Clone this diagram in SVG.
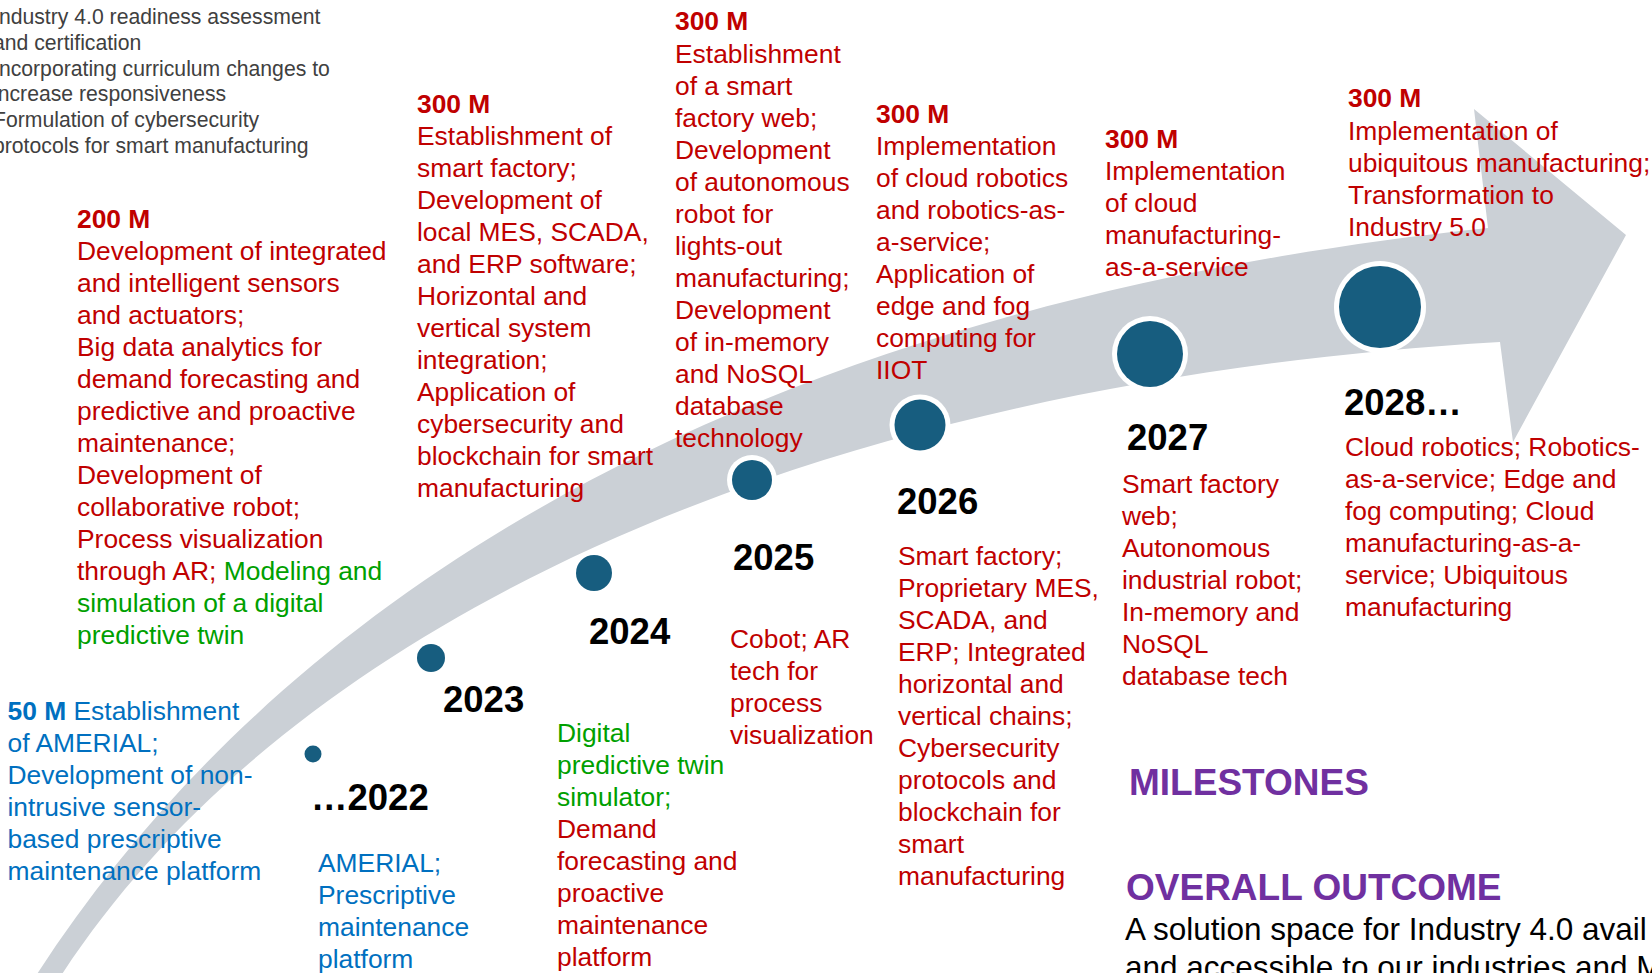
<svg xmlns="http://www.w3.org/2000/svg" width="1652" height="973" viewBox="0 0 1652 973">
<style>
text{font-family:"Liberation Sans",Arial,Helvetica,sans-serif}
.t{font-size:26.4px}
.red{fill:#C00000}
.grn{fill:#00A000}
.blu{fill:#0070C0}
.b{font-weight:bold}
.yr{font-size:36.5px;font-weight:bold;fill:#000}
.gray{font-size:21.2px;fill:#404040}
.hd{font-size:37px;font-weight:bold;fill:#7030A0}
.out{font-size:31.5px;fill:#000}
.arrow{fill:#CBD0D6}
.dot{fill:#175D7F}
.ring{fill:#FFFFFF}
</style>
<rect width="1652" height="973" fill="#FFFFFF"/>
<g id="connectors">
<path class="arrow" d="M30,985 C300,560 800,300 1488,228 L1474,109 L1626,235 L1513,442 L1500,342 C850,380 300,600 55,985 Z"/>
</g>
<g id="dot-2022"><circle class="dot" cx="313" cy="754" r="8.5"/></g>
<g id="dot-2023"><circle class="dot" cx="431" cy="658" r="14"/></g>
<g id="dot-2024"><circle class="ring" cx="594" cy="573" r="22"/><circle class="dot" cx="594" cy="573" r="18"/></g>
<g id="dot-2025"><circle class="ring" cx="752" cy="480" r="25"/><circle class="dot" cx="752" cy="480" r="20"/></g>
<g id="dot-2026"><circle class="ring" cx="920" cy="425" r="30.5"/><circle class="dot" cx="920" cy="425" r="25.5"/></g>
<g id="dot-2027"><circle class="ring" cx="1150" cy="354" r="38"/><circle class="dot" cx="1150" cy="354" r="33"/></g>
<g id="dot-2028"><circle class="ring" cx="1380" cy="307" r="46"/><circle class="dot" cx="1380" cy="307" r="41"/></g>

<g id="goals-list">
<text class="gray">
<tspan x="-7" y="24">Industry 4.0 readiness assessment</tspan>
<tspan x="-7" y="50">and certification</tspan>
<tspan x="-7" y="76">Incorporating curriculum changes to</tspan>
<tspan x="-7" y="101">increase responsiveness</tspan>
<tspan x="-7" y="127">Formulation of cybersecurity</tspan>
<tspan x="-7" y="153">protocols for smart manufacturing</tspan>
</text>
</g>

<g id="fund-2022">
<text class="t blu">
<tspan x="7.5" y="720"><tspan class="b">50 M</tspan> Establishment</tspan>
<tspan x="7.5" y="752">of AMERIAL;</tspan>
<tspan x="7.5" y="784">Development of non-</tspan>
<tspan x="7.5" y="816">intrusive sensor-</tspan>
<tspan x="7.5" y="848">based prescriptive</tspan>
<tspan x="7.5" y="880">maintenance platform</tspan>
</text>
</g>

<g id="fund-2023">
<text class="t red">
<tspan class="b" x="77" y="228">200 M</tspan>
<tspan x="77" y="260">Development of integrated</tspan>
<tspan x="77" y="292">and intelligent sensors</tspan>
<tspan x="77" y="324">and actuators;</tspan>
<tspan x="77" y="356">Big data analytics for</tspan>
<tspan x="77" y="388">demand forecasting and</tspan>
<tspan x="77" y="420">predictive and proactive</tspan>
<tspan x="77" y="452">maintenance;</tspan>
<tspan x="77" y="484">Development of</tspan>
<tspan x="77" y="516">collaborative robot;</tspan>
<tspan x="77" y="548">Process visualization</tspan>
<tspan x="77" y="580">through AR; <tspan class="grn">Modeling and</tspan></tspan>
<tspan class="grn" x="77" y="612">simulation of a digital</tspan>
<tspan class="grn" x="77" y="644">predictive twin</tspan>
</text>
</g>

<g id="fund-2024">
<text class="t red">
<tspan class="b" x="417" y="113">300 M</tspan>
<tspan x="417" y="145">Establishment of</tspan>
<tspan x="417" y="177">smart factory;</tspan>
<tspan x="417" y="209">Development of</tspan>
<tspan x="417" y="241">local MES, SCADA,</tspan>
<tspan x="417" y="273">and ERP software;</tspan>
<tspan x="417" y="305">Horizontal and</tspan>
<tspan x="417" y="337">vertical system</tspan>
<tspan x="417" y="369">integration;</tspan>
<tspan x="417" y="401">Application of</tspan>
<tspan x="417" y="433">cybersecurity and</tspan>
<tspan x="417" y="465">blockchain for smart</tspan>
<tspan x="417" y="497">manufacturing</tspan>
</text>
</g>

<g id="fund-2025">
<text class="t red">
<tspan class="b" x="675" y="30">300 M</tspan>
<tspan x="675" y="63">Establishment</tspan>
<tspan x="675" y="95">of a smart</tspan>
<tspan x="675" y="127">factory web;</tspan>
<tspan x="675" y="159">Development</tspan>
<tspan x="675" y="191">of autonomous</tspan>
<tspan x="675" y="223">robot for</tspan>
<tspan x="675" y="255">lights-out</tspan>
<tspan x="675" y="287">manufacturing;</tspan>
<tspan x="675" y="319">Development</tspan>
<tspan x="675" y="351">of in-memory</tspan>
<tspan x="675" y="383">and NoSQL</tspan>
<tspan x="675" y="415">database</tspan>
<tspan x="675" y="447">technology</tspan>
</text>
</g>

<g id="fund-2026">
<text class="t red">
<tspan class="b" x="876" y="123">300 M</tspan>
<tspan x="876" y="155">Implementation</tspan>
<tspan x="876" y="187">of cloud robotics</tspan>
<tspan x="876" y="219">and robotics-as-</tspan>
<tspan x="876" y="251">a-service;</tspan>
<tspan x="876" y="283">Application of</tspan>
<tspan x="876" y="315">edge and fog</tspan>
<tspan x="876" y="347">computing for</tspan>
<tspan x="876" y="379">IIOT</tspan>
</text>
</g>

<g id="fund-2027">
<text class="t red">
<tspan class="b" x="1105" y="148">300 M</tspan>
<tspan x="1105" y="180">Implementation</tspan>
<tspan x="1105" y="212">of cloud</tspan>
<tspan x="1105" y="244">manufacturing-</tspan>
<tspan x="1105" y="276">as-a-service</tspan>
</text>
</g>

<g id="fund-2028">
<text class="t red">
<tspan class="b" x="1348" y="107">300 M</tspan>
<tspan x="1348" y="140">Implementation of</tspan>
<tspan x="1348" y="172">ubiquitous manufacturing;</tspan>
<tspan x="1348" y="204">Transformation to</tspan>
<tspan x="1348" y="236">Industry 5.0</tspan>
</text>
</g>

<g id="year-2022">
<text class="yr" x="311" y="810">…2022</text>
<text class="t blu">
<tspan x="318" y="872">AMERIAL;</tspan>
<tspan x="318" y="904">Prescriptive</tspan>
<tspan x="318" y="936">maintenance</tspan>
<tspan x="318" y="968">platform</tspan>
</text>
</g>

<g id="year-2023">
<text class="yr" x="443" y="712">2023</text>
</g>

<g id="year-2024">
<text class="yr" x="589" y="644">2024</text>
<text class="t">
<tspan class="grn" x="557" y="742">Digital</tspan>
<tspan class="grn" x="557" y="774">predictive twin</tspan>
<tspan class="grn" x="557" y="806">simulator;</tspan>
<tspan class="red" x="557" y="838">Demand</tspan>
<tspan class="red" x="557" y="870">forecasting and</tspan>
<tspan class="red" x="557" y="902">proactive</tspan>
<tspan class="red" x="557" y="934">maintenance</tspan>
<tspan class="red" x="557" y="966">platform</tspan>
</text>
</g>

<g id="year-2025">
<text class="yr" x="733" y="570">2025</text>
<text class="t red">
<tspan x="730" y="648">Cobot; AR</tspan>
<tspan x="730" y="680">tech for</tspan>
<tspan x="730" y="712">process</tspan>
<tspan x="730" y="744">visualization</tspan>
</text>
</g>

<g id="year-2026">
<text class="yr" x="897" y="514">2026</text>
<text class="t red">
<tspan x="898" y="565">Smart factory;</tspan>
<tspan x="898" y="597">Proprietary MES,</tspan>
<tspan x="898" y="629">SCADA, and</tspan>
<tspan x="898" y="661">ERP; Integrated</tspan>
<tspan x="898" y="693">horizontal and</tspan>
<tspan x="898" y="725">vertical chains;</tspan>
<tspan x="898" y="757">Cybersecurity</tspan>
<tspan x="898" y="789">protocols and</tspan>
<tspan x="898" y="821">blockchain for</tspan>
<tspan x="898" y="853">smart</tspan>
<tspan x="898" y="885">manufacturing</tspan>
</text>
</g>

<g id="year-2027">
<text class="yr" x="1127" y="450">2027</text>
<text class="t red">
<tspan x="1122" y="493">Smart factory</tspan>
<tspan x="1122" y="525">web;</tspan>
<tspan x="1122" y="557">Autonomous</tspan>
<tspan x="1122" y="589">industrial robot;</tspan>
<tspan x="1122" y="621">In-memory and</tspan>
<tspan x="1122" y="653">NoSQL</tspan>
<tspan x="1122" y="685">database tech</tspan>
</text>
</g>

<g id="year-2028">
<text class="yr" x="1344" y="415">2028…</text>
<text class="t red">
<tspan x="1345" y="456">Cloud robotics; Robotics-</tspan>
<tspan x="1345" y="488">as-a-service; Edge and</tspan>
<tspan x="1345" y="520">fog computing; Cloud</tspan>
<tspan x="1345" y="552">manufacturing-as-a-</tspan>
<tspan x="1345" y="584">service; Ubiquitous</tspan>
<tspan x="1345" y="616">manufacturing</tspan>
</text>
</g>

<g id="milestones">
<text class="hd" x="1129" y="795">MILESTONES</text>
</g>

<g id="overall-outcome">
<text class="hd" x="1126" y="900">OVERALL OUTCOME</text>
<text class="out">
<tspan x="1125" y="940">A solution space for Industry 4.0 avail</tspan>
<tspan x="1125" y="978">and accessible to our industries and M</tspan>
</text>
</g>
</svg>
